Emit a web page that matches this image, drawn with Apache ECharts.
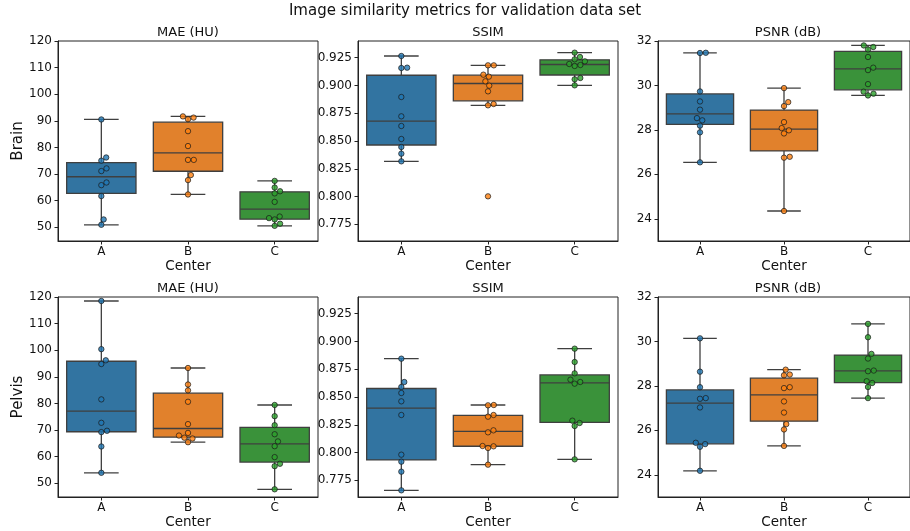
<!DOCTYPE html>
<html>
<head>
<meta charset="utf-8">
<script src="https://cdn.jsdelivr.net/npm/echarts@6/dist/echarts.min.js"></script>
<style>
  html, body { margin: 0; padding: 0; background: #fff; }
  #chart { width: 910px; height: 531px; }
</style>
</head>
<body>
<div id="chart"></div>
<script>
// categories / labels
const centers = ['A', 'B', 'C'];
const regions = ['Brain', 'Pelvis'];
const metrics = ['MAE (HU)', 'SSIM', 'PSNR (dB)'];

// tick labels
const maeTicks = [50, 60, 70, 80, 90, 100, 110, 120];
const ssimTicks = [0.775, 0.8, 0.825, 0.85, 0.875, 0.9, 0.925];
const psnrTicks = [24, 26, 28, 30, 32];

// brain values
const brainMaeA = [90.5, 76.2, 75.0, 72.1, 71.1, 66.8, 65.8, 61.7, 52.9, 50.9];
const brainMaeB = [91.65, 91.2, 90.6, 86.1, 80.5, 75.3, 75.3, 69.6, 67.7, 62.3];
const brainMaeC = [67.4, 64.9, 63.5, 62.7, 59.5, 54.0, 53.4, 52.9, 51.3, 50.5];

const brainSsimA = [0.9265, 0.916, 0.9157, 0.8896, 0.8722, 0.8635, 0.8518, 0.8446, 0.8386, 0.8317];
const brainSsimB = [0.9181, 0.9181, 0.9097, 0.9079, 0.9037, 0.8998, 0.8947, 0.8833, 0.8821, 0.8002];
const brainSsimC = [0.9295, 0.9256, 0.9235, 0.9217, 0.9193, 0.9184, 0.9175, 0.9067, 0.9055, 0.9001];

const brainPsnrA = [31.47, 31.46, 29.73, 29.28, 28.91, 28.53, 28.43, 28.19, 27.89, 26.54];
const brainPsnrB = [29.88, 29.25, 29.07, 28.35, 28.08, 27.98, 27.84, 26.79, 26.75, 24.35];
const brainPsnrC = [31.80, 31.73, 31.62, 31.28, 30.80, 30.69, 30.06, 29.72, 29.63, 29.55];

// pelvis values
const pelvisMaeA = [118.5, 100.4, 96.2, 94.8, 81.5, 72.7, 69.7, 69.2, 63.8, 53.9];
const pelvisMaeB = [93.3, 87.1, 84.9, 80.6, 72.2, 68.9, 67.9, 67.1, 66.8, 65.4];
const pelvisMaeC = [79.4, 75.2, 71.8, 68.4, 65.7, 63.9, 59.8, 57.3, 56.4, 47.7];

const pelvisSsimA = [0.8845, 0.8635, 0.859, 0.8536, 0.8461, 0.8338, 0.7981, 0.7918, 0.7828, 0.766];
const pelvisSsimB = [0.8428, 0.8425, 0.8338, 0.8323, 0.82, 0.8182, 0.8059, 0.8056, 0.8041, 0.7891];
const pelvisSsimC = [0.8935, 0.8815, 0.8713, 0.8656, 0.8635, 0.862, 0.8287, 0.8266, 0.8239, 0.7939];

const pelvisPsnrA = [30.14, 28.64, 27.94, 27.45, 27.42, 27.03, 25.44, 25.38, 25.26, 24.18];
const pelvisPsnrB = [28.73, 28.51, 28.48, 27.94, 27.90, 27.30, 26.80, 26.28, 26.04, 25.30];
const pelvisPsnrC = [30.79, 30.19, 29.44, 29.23, 28.69, 28.66, 28.21, 28.13, 27.95, 27.45];

// panels in row-major order
const panels = [
  [brainMaeA, brainMaeB, brainMaeC],
  [brainSsimA, brainSsimB, brainSsimC],
  [brainPsnrA, brainPsnrB, brainPsnrC],
  [pelvisMaeA, pelvisMaeB, pelvisMaeC],
  [pelvisSsimA, pelvisSsimB, pelvisSsimC],
  [pelvisPsnrA, pelvisPsnrB, pelvisPsnrC]
];

// styling / layout
const boxColors = ['#3274a1', '#e1812c', '#3a923a'];
const dotColors = ['#1f77b4', '#ff7f0e', '#2ca02c'];
const lineColor = '#3f3f3f';
const axisColor = '#222';
const font = 'DejaVu Sans';
const colLeft = [58, 358, 658];
const rowTop = [41, 297];
const gridW = 260, gridH = 200;
const yRange = [[44.8, 120], [0.76, 0.94], [23, 32]];
const yTicks = [maeTicks, ssimTicks, psnrTicks];
const dotSize = 5.4, dotGap = 5.8;

// matplotlib style quantiles + whiskers
function quant(s, p) {
  const h = (s.length - 1) * p, lo = Math.floor(h);
  const hi = Math.min(lo + 1, s.length - 1);
  return s[lo] + (h - lo) * (s[hi] - s[lo]);
}
function boxStats(vals) {
  const s = vals.slice().sort((a, b) => a - b);
  const q1 = quant(s, 0.25), med = quant(s, 0.5), q3 = quant(s, 0.75);
  const iqr = q3 - q1;
  const low = Math.min(...s.filter(v => v >= q1 - 1.5 * iqr));
  const high = Math.max(...s.filter(v => v <= q3 + 1.5 * iqr));
  return [low, q1, med, q3, high];
}

// simple beeswarm, offsets in px
function swarm(vals, pxPerUnit) {
  const order = vals.map((v, i) => i).sort((a, b) => vals[a] - vals[b]);
  const placed = [];
  const off = [];
  order.forEach(i => {
    const y = vals[i] * pxPerUnit;
    const near = placed.filter(p => Math.abs(p.y - y) < dotGap);
    const cands = [0];
    near.forEach(p => {
      const dx = Math.sqrt(dotGap * dotGap - (p.y - y) * (p.y - y));
      cands.push(p.x + dx, p.x - dx);
    });
    cands.sort((a, b) => Math.abs(a) - Math.abs(b));
    const x = cands.find(c => near.every(p =>
      (p.x - c) * (p.x - c) + (p.y - y) * (p.y - y) >= dotGap * dotGap - 1e-6));
    placed.push({ x: x, y: y });
    off[i] = x;
  });
  return off;
}

function renderBox(params, api) {
  const i = api.value(0);
  const bw = api.size([1, 0])[0] * 0.8;
  const x = api.coord([i, api.value(3)])[0];
  const yLo = api.coord([i, api.value(1)])[1];
  const yQ1 = api.coord([i, api.value(2)])[1];
  const yMed = api.coord([i, api.value(3)])[1];
  const yQ3 = api.coord([i, api.value(4)])[1];
  const yHi = api.coord([i, api.value(5)])[1];
  const ls = { stroke: lineColor, lineWidth: 1.3 };
  return {
    type: 'group',
    children: [
      { type: 'line', shape: { x1: x, y1: yLo, x2: x, y2: yQ1 }, style: ls },
      { type: 'line', shape: { x1: x, y1: yQ3, x2: x, y2: yHi }, style: ls },
      { type: 'line', shape: { x1: x - bw / 4, y1: yLo, x2: x + bw / 4, y2: yLo }, style: ls },
      { type: 'line', shape: { x1: x - bw / 4, y1: yHi, x2: x + bw / 4, y2: yHi }, style: ls },
      { type: 'rect', shape: { x: x - bw / 2, y: yQ3, width: bw, height: yQ1 - yQ3 },
        style: { fill: boxColors[params.dataIndex], stroke: lineColor, lineWidth: 1.3 } },
      { type: 'line', shape: { x1: x - bw / 2, y1: yMed, x2: x + bw / 2, y2: yMed }, style: ls }
    ]
  };
}

const grids = [], xAxes = [], yAxes = [], series = [];
const titles = [{
  text: 'Image similarity metrics for validation data set',
  left: 465, top: 4, padding: 0, textAlign: 'center',
  textStyle: { fontFamily: font, fontSize: 15, fontWeight: 'normal', color: '#111' }
}];

panels.forEach((groups, k) => {
  const row = Math.floor(k / 3), col = k % 3;
  const range = yRange[col];
  const pxPerUnit = gridH / (range[1] - range[0]);
  grids.push({
    left: colLeft[col], top: rowTop[row], width: gridW, height: gridH,
    show: true, borderColor: axisColor, borderWidth: 1, backgroundColor: 'transparent'
  });
  titles.push({
    text: metrics[col], left: colLeft[col] + gridW / 2, top: rowTop[row] - 15, padding: 0,
    textAlign: 'center',
    textStyle: { fontFamily: font, fontSize: 13, fontWeight: 'normal', color: '#111' }
  });
  xAxes.push({
    gridIndex: k, type: 'category', data: centers,
    name: 'Center', nameLocation: 'middle', nameGap: 18,
    nameTextStyle: { fontFamily: font, fontSize: 13.5, color: '#111' },
    axisLine: { show: true, lineStyle: { color: axisColor, width: 1 } },
    axisTick: { show: true, alignWithLabel: true, length: 3.5, lineStyle: { color: axisColor } },
    axisLabel: { fontFamily: font, fontSize: 12, color: '#111', margin: 5 },
    splitLine: { show: false }
  });
  const ticks = yTicks[col];
  yAxes.push({
    gridIndex: k, type: 'value', min: range[0], max: range[1],
    name: col === 0 ? regions[row] : '', nameLocation: 'middle', nameGap: 30,
    nameTextStyle: { fontFamily: font, fontSize: 15, color: '#111' },
    axisLine: { show: true, lineStyle: { color: axisColor, width: 1 } },
    axisTick: { show: true, length: 3.5, customValues: ticks, lineStyle: { color: axisColor } },
    axisLabel: {
      customValues: ticks, fontFamily: font, fontSize: 12, color: '#111', margin: 6,
      formatter: v => col === 1 ? Number(v).toFixed(3) : String(Math.round(v))
    },
    splitLine: { show: false }
  });
  series.push({
    type: 'custom', xAxisIndex: k, yAxisIndex: k, z: 2,
    renderItem: renderBox,
    encode: { x: 0, y: [1, 2, 3, 4, 5] },
    data: groups.map((vals, i) => [i].concat(boxStats(vals))),
    silent: true
  });
  const dots = [];
  groups.forEach((vals, i) => {
    const off = swarm(vals, pxPerUnit);
    vals.forEach((v, j) => {
      dots.push({
        value: [i, v],
        symbolOffset: [off[j], 0],
        itemStyle: { color: dotColors[i], borderColor: '#1a1a1a', borderWidth: 0.9 }
      });
    });
  });
  series.push({
    type: 'scatter', xAxisIndex: k, yAxisIndex: k, z: 5,
    symbol: 'circle', symbolSize: dotSize, data: dots, silent: true
  });
});

const chart = echarts.init(document.getElementById('chart'), null, { renderer: 'canvas' });
chart.setOption({
  animation: false,
  backgroundColor: '#fff',
  title: titles,
  grid: grids,
  xAxis: xAxes,
  yAxis: yAxes,
  series: series
});
</script>
</body>
</html>
